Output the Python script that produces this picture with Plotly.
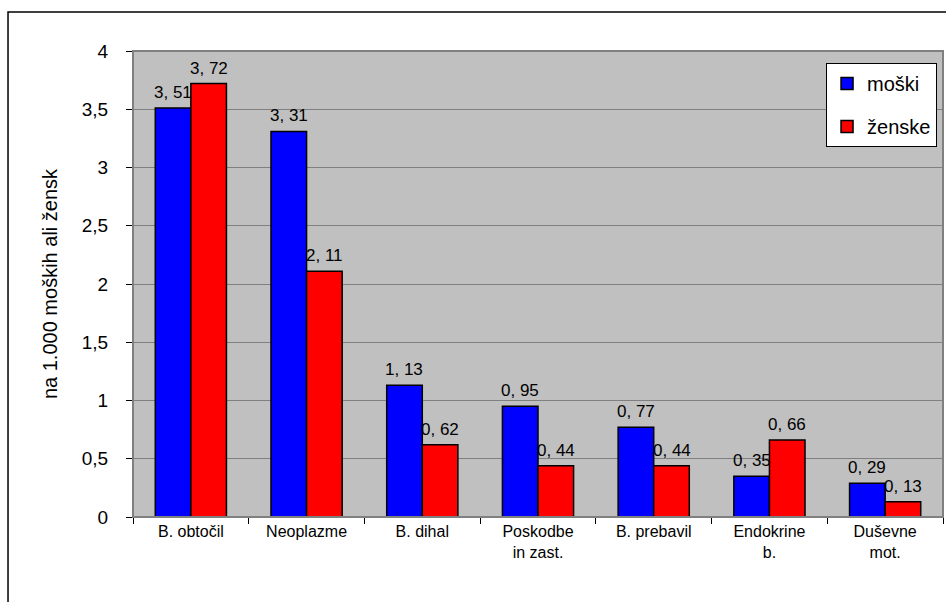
import plotly.graph_objects as go

categories = ["B. obtočil", "Neoplazme", "B. dihal", "Poskodbe<br>in zast.",
              "B. prebavil", "Endokrine<br>b.", "Duševne<br>mot."]
moski = [3.51, 3.31, 1.13, 0.95, 0.77, 0.35, 0.29]
zenske = [3.72, 2.11, 0.62, 0.44, 0.44, 0.66, 0.13]
y_ticks = [0, 0.5, 1, 1.5, 2, 2.5, 3, 3.5, 4]

def fmt(v):
    return f"{v:.2f}".replace(".", ", ")

fig = go.Figure()
fig.add_trace(go.Bar(x=categories, y=moski, name="moški", legendgroup="m",
                     marker=dict(color="#0000FF", line=dict(color="black", width=1.5))))
fig.add_trace(go.Bar(x=categories, y=zenske, name="ženske", legendgroup="z",
                     marker=dict(color="#FF0000", line=dict(color="black", width=1.5))))

# data labels above bars
for series, shift in ((moski, -17.8), (zenske, 17.8)):
    for cat, v in zip(categories, series):
        fig.add_annotation(x=cat, y=v, text=fmt(v), showarrow=False,
                           xshift=shift, yshift=4, yanchor="bottom",
                           font=dict(size=17, color="black"))

fig.update_layout(
    width=946, height=602,
    margin=dict(l=133, r=3, t=51, b=85),
    paper_bgcolor="white", plot_bgcolor="#C0C0C0",
    separators=", ",
    font=dict(family="Liberation Sans, Arial, sans-serif", color="black"),
    barmode="group", bargap=0.385, bargroupgap=0,
    showlegend=True,
    legend=dict(x=0.8556, y=0.974, xanchor="left", yanchor="top",
                bgcolor="white", bordercolor="black", borderwidth=1,
                font=dict(size=20), itemwidth=30, tracegroupgap=14),
)
fig.update_xaxes(showgrid=False, ticks="outside", ticklen=6, tickcolor="black",
                 tickson="boundaries", showline=True, linecolor="black", linewidth=1,
                 tickfont=dict(size=16), mirror=False)
fig.update_yaxes(range=[0, 4], tickvals=y_ticks, ticks="outside", ticklen=6,
                 tickcolor="black", showline=True, linecolor="black", linewidth=1,
                 gridcolor="#808080", gridwidth=1, tickfont=dict(size=19),
                 ticklabelstandoff=14,
                 title=dict(text="na 1.000 moških ali žensk", font=dict(size=20), standoff=18),
                 zeroline=False)
# plot area border (gray)
fig.add_shape(type="rect", xref="paper", yref="paper", x0=0, x1=1, y0=0, y1=1,
              line=dict(color="#808080", width=2), layer="above")
# outer chart border
fig.add_shape(type="rect", xref="paper", yref="paper", x0=-0.1543, x1=1.2, y0=-0.3, y1=1.0837,
              line=dict(color="black", width=1.5))
fig.write_html("out.html", config={"displayModeBar": False},
               post_script="document.body.style.margin='0';document.body.style.overflow='hidden';")
